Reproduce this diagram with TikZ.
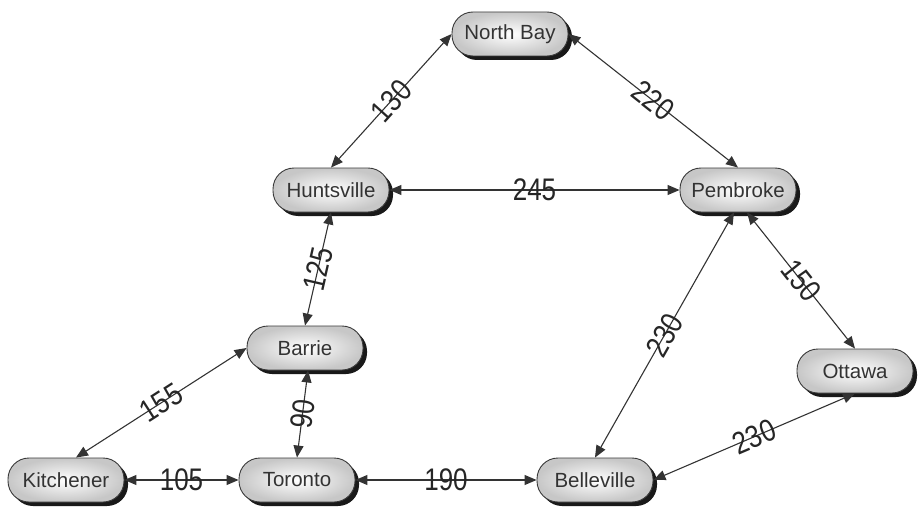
\documentclass[tikz,border=0pt]{standalone}
\usepackage{fontspec}
\setmainfont{Liberation Sans}
\usetikzlibrary{arrows.meta,shadows}
\definecolor{edgecol}{HTML}{333333}
\definecolor{nodeborder}{HTML}{3A3A3A}
\newcommand\dlab[1]{\scalebox{1}[1.2]{#1}}
\tikzset{
  city/.style={rectangle, rounded corners=21pt, minimum width=116pt, minimum height=44pt,
    draw=nodeborder, line width=0.9pt, shading=radial, inner color=white, outer color=black!22,
    drop shadow={shadow xshift=4pt, shadow yshift=-4pt, fill=black, opacity=0.9},
    font=\fontsize{20.5}{22}\selectfont, text=black!80},
  road/.style={draw=edgecol, line width=1.1pt, {Triangle[length=12pt,width=10pt]}-{Triangle[length=12pt,width=10pt]}},
  dist/.style={sloped, midway, inner sep=0pt, font=\fontsize{26}{28}\selectfont, text=black!85}
}
\begin{document}
\begin{tikzpicture}[x=1pt,y=-1pt]
\useasboundingbox (0,0) rectangle (918,511);
\node[city] (nb) at (510,34) {North Bay};
\node[city] (hv) at (331,190) {Huntsville};
\node[city] (pb) at (738,190) {Pembroke};
\node[city] (br) at (305,348) {Barrie};
\node[city] (ot) at (855,371) {Ottawa};
\node[city] (kt) at (66,480) {Kitchener};
\node[city] (tr) at (297,480) {Toronto};
\node[city] (bv) at (595,480) {Belleville};

\draw[road] (hv.north) -- node[dist] {\dlab{130}} (nb.west);
\draw[road] (nb.east) -- node[dist] {\dlab{220}} (pb.north);
\draw[road] (hv.east) -- node[dist] {\dlab{245}} (pb.west);
\draw[road] (br.north) -- node[dist] {\dlab{125}} (hv.south);
\draw[road] (bv.north) -- node[dist] {\dlab{230}} ([xshift=-4pt]pb.south);
\draw[road] ([xshift=9pt]pb.south) -- node[dist] {\dlab{150}} (ot.north);
\draw[road] ([xshift=10pt]kt.north) -- node[dist] {\dlab{155}} (br.west);
\draw[road] (tr.north) -- node[dist] {\dlab{90}} ([xshift=3pt]br.south);
\draw[road] (kt.east) -- node[dist] {\dlab{105}} (tr.west);
\draw[road] (tr.east) -- node[dist] {\dlab{190}} (bv.west);
\draw[road] (bv.east) -- node[dist] {\dlab{230}} (ot.south);
\end{tikzpicture}
\end{document}
